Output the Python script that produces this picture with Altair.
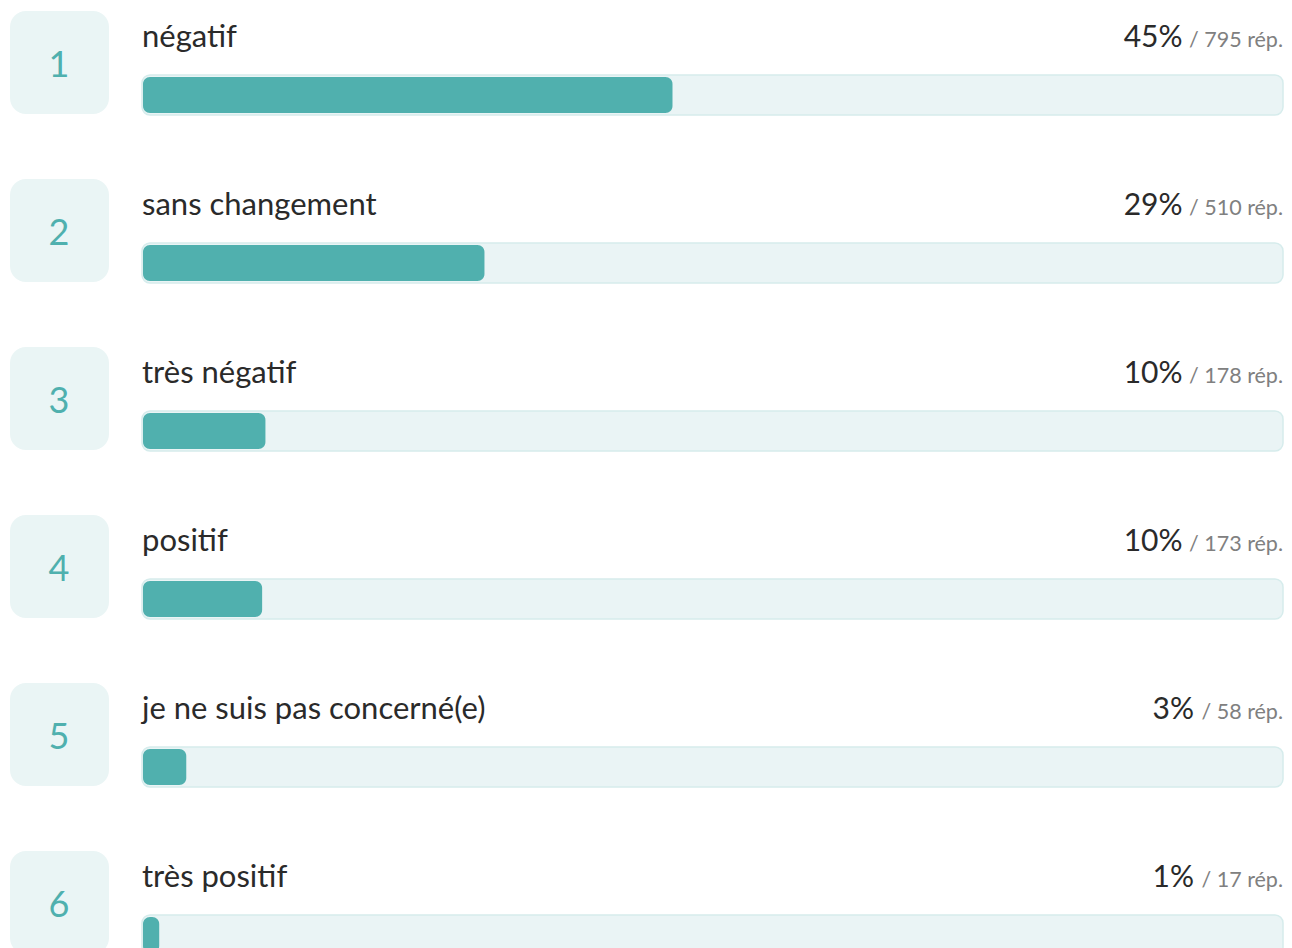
import altair as alt
import pandas as pd

ranks = [1, 2, 3, 4, 5, 6]
labels = ["négatif", "sans changement", "très négatif", "positif",
          "je ne suis pas concerné(e)", "très positif"]
pcts = ["45%", "29%", "10%", "10%", "3%", "1%"]
counts = [795, 510, 178, 173, 58, 17]

total = sum(counts)
FONT = "Lato"
RIGHT = 1276

df = pd.DataFrame({
    "rank": ranks,
    "label": labels,
    "pct": pcts,
    "count": counts,
})
df["rep"] = [f"/ {c} rép." for c in counts]
# right edge of the percentage text: left of the "/ n rép." text
df["pctx"] = [RIGHT - 1 - (57 + 11.5 * len(str(c))) - 9 for c in counts]

y = alt.Y("rank:O", scale=alt.Scale(range=[0, 1008], paddingInner=0, paddingOuter=0), axis=None)

base = alt.Chart(df)

box = base.mark_bar(height=103, yOffset=-29.5, cornerRadius=16, color="#eaf5f5").encode(
    x=alt.value(2), x2=alt.value(101), y=y)

track = base.mark_bar(height=40, yOffset=3, cornerRadius=8, fill="#eaf4f5",
                      stroke="#d6ecec", strokeWidth=1.5).encode(
    x=alt.value(134), x2=alt.value(RIGHT - 1), y=y)

fill = base.mark_rect(height=36, yOffset=3, cornerRadius=7, color="#50b0ae").encode(
    x=alt.X("count:Q", scale=alt.Scale(domain=[0, total], range=[140, 1282]), axis=None),
    x2=alt.value(135), y=y)

num = base.mark_text(font=FONT, fontSize=36, color="#4fb0ae", baseline="middle",
                     align="center", dy=-26).encode(
    x=alt.value(51), y=y, text="rank:N")

lab = base.mark_text(font=FONT, fontSize=31, color="#2a2a2a", baseline="alphabetic",
                     align="left", dy=-45).encode(
    x=alt.value(134), y=y, text="label:N")

pct = base.mark_text(font=FONT, fontSize=30, color="#2a2a2a", baseline="alphabetic",
                     align="right", dy=-45).encode(
    x=alt.X("pctx:Q", scale=None), y=y, text="pct:N")

rep = base.mark_text(font=FONT, fontSize=21.5, color="#808080", baseline="alphabetic",
                     align="right", dy=-45).encode(
    x=alt.value(RIGHT - 1), y=y, text="rep:N")

chart = alt.layer(box, track, fill, num, lab, pct, rep).properties(
    width=RIGHT, height=940, padding=0, autosize=alt.AutoSizeParams(type="none")
).configure(background="white").configure_view(stroke=None)

chart.save("out.html", embed_options={"renderer": "svg", "actions": False})
